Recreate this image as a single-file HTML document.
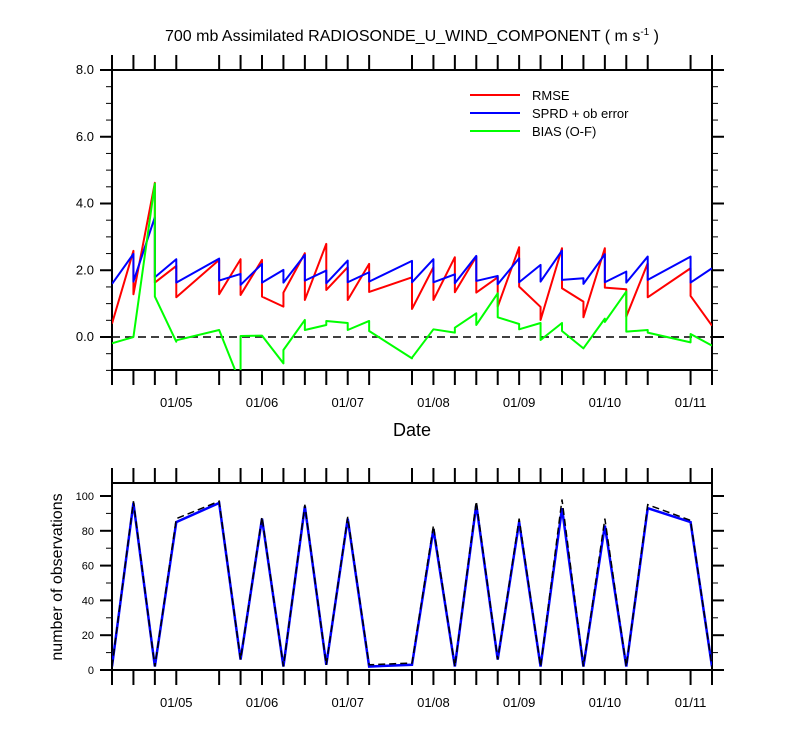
<!DOCTYPE html>
<html><head><meta charset="utf-8"><style>
body{margin:0;background:#fff;}
svg{display:block;font-family:"Liberation Sans",sans-serif;}
</style></head><body>
<svg id="c" width="800" height="750">
<defs>
<clipPath id="clipTop"><rect x="112" y="70" width="600" height="300"/></clipPath>
<clipPath id="clipBot"><rect x="112" y="483" width="600" height="187"/></clipPath>
</defs>
<text x="412" y="41" text-anchor="middle" font-size="16">700 mb Assimilated RADIOSONDE_U_WIND_COMPONENT ( m s<tspan dy="-6" font-size="10">-1</tspan><tspan dy="6"> )</tspan></text>
<g id="top"></g>
<g id="bot"></g>
<text x="412" y="436" text-anchor="middle" font-size="18">Date</text>
<text transform="translate(62,577) rotate(-90)" text-anchor="middle" font-size="16">number of observations</text>
<g>
<line x1="470" y1="95" x2="520" y2="95" stroke="#f00" stroke-width="2"/>
<text x="532" y="100" font-size="13">RMSE</text>
<line x1="470" y1="113" x2="520" y2="113" stroke="#00f" stroke-width="2"/>
<text x="532" y="118" font-size="13">SPRD + ob error</text>
<line x1="470" y1="131" x2="520" y2="131" stroke="#0f0" stroke-width="2"/>
<text x="532" y="136" font-size="13">BIAS (O-F)</text>
</g>
</svg>
<script>
// data times (6-hour slot index from 01/04 06Z)
const slots = [0,1,2,3,5,6,7,8,9,10,11,12,14,15,16,17,18,19,20,21,22,23,24,25,27,28];
const rmseIn  = [0.40,2.58,4.62,2.13,2.31,2.33,2.31,0.91,2.51,2.79,2.09,2.19,1.79,2.09,2.39,2.41,1.79,2.69,0.90,2.66,1.06,2.66,1.43,2.21,2.06,0.34];
const rmseOut = [0.40,1.28,1.63,1.19,1.28,1.26,1.21,1.33,1.11,1.41,1.11,1.35,0.84,1.11,1.34,1.33,0.91,1.51,0.51,1.46,0.59,1.48,0.61,1.19,1.23,0.34];
const sprdIn  = [1.59,2.49,3.59,2.33,2.35,1.89,2.19,2.01,2.46,1.99,2.29,1.94,2.28,2.33,1.88,2.43,1.83,2.36,2.16,2.59,1.76,2.48,1.96,2.41,2.41,2.06];
const sprdOut = [1.59,1.66,1.79,1.63,1.69,1.56,1.63,1.63,1.69,1.61,1.64,1.66,1.64,1.64,1.61,1.68,1.58,1.64,1.66,1.71,1.59,1.64,1.63,1.71,1.63,2.06];
const biasIn  = [-0.19,0.00,4.60,-0.14,0.21,-1.40,0.04,-0.79,0.51,0.36,0.42,0.48,-0.64,0.23,0.13,0.71,1.31,0.39,0.42,0.42,-0.34,0.55,1.36,0.21,-0.16,-0.26];
const biasOut = [-0.19,0.00,1.21,-0.10,0.21,0.03,0.04,-0.39,0.21,0.48,0.21,0.18,-0.62,0.23,0.28,0.36,0.59,0.23,-0.09,0.18,-0.34,0.45,0.16,0.13,0.09,-0.26];
const nobsAssim = [2,96,2,85,96,6,87,2,94,3,87,2,3,81,2,95,6,85,2,93,2,83,2,93,85,2];
const nobsTotal = [2,97,2,87,97,6,88,2,95,3,88,3,4,83,2,97,6,87,2,98,2,87,2,95,86,2];
const dateLabels = ["01/05","01/06","01/07","01/08","01/09","01/10","01/11"];
const dateSlots = [3,7,11,15,19,23,27];
const topTicks = [0,2,4,6,8];
const botTicks = [0,20,40,60,80,100];

const NS="http://www.w3.org/2000/svg";
const svg=document.getElementById('c');
const gT=document.getElementById('top'), gB=document.getElementById('bot');
const X0=112,X1=712,NSLOT=28;
function xs(s){return X0+(X1-X0)*s/NSLOT;}
function yT(v){return 337-v*33.375;}
function yB(v){return 670-v*1.74;}
function mk(tag,attrs,parent){const e=document.createElementNS(NS,tag);for(const k in attrs)e.setAttribute(k,attrs[k]);parent.appendChild(e);return e;}

function axes(g,top,bot,yfun,ticks,minorStep,vmin,vmax,fmt,name){
  const r=mk('rect',{x:X0,y:top,width:X1-X0,height:bot-top,fill:'none',stroke:'#000','stroke-width':2},g);
  
  
  slots.forEach(s=>{
    const x=xs(s);
    const t1=mk('line',{x1:x,y1:top-15,x2:x,y2:top,stroke:'#000','stroke-width':2},g);
    
    
    const t2=mk('line',{x1:x,y1:bot,x2:x,y2:bot+15,stroke:'#000','stroke-width':2},g);
    
    
  });
  for(let v=vmin;v<=vmax+1e-9;v+=minorStep){
    const y=yfun(v); if(y<top-0.5||y>bot+0.5) continue;
    const major=ticks.some(t=>Math.abs(t-v)<1e-6);
    const len=major?12:6;
    const a=mk('line',{x1:X0-len,y1:y,x2:X0,y2:y,stroke:'#000','stroke-width':major?2:1},g);
    
    
    const b=mk('line',{x1:X1,y1:y,x2:X1+len,y2:y,stroke:'#000','stroke-width':major?2:1},g);
    
    
  }
  ticks.forEach(t=>{
    const tx=mk('text',{x:X0-18,y:yfun(t)+4,'text-anchor':'end','font-size':name==='top'?13:11},g);
    tx.textContent=fmt(t);
    
    
  });
  dateLabels.forEach((d,i)=>{
    const tx=mk('text',{x:xs(dateSlots[i]),y:bot+37,'text-anchor':'middle','font-size':13},g);
    tx.textContent=d;
    
    
  });
}
axes(gT,70,370,yT,topTicks,0.5,-1,8,t=>t.toFixed(1),'top');
axes(gB,483,670,yB,botTicks,10,0,100,t=>String(t),'bot');

const zl=mk('line',{x1:X0,y1:yT(0),x2:X1,y2:yT(0),stroke:'#000','stroke-width':1.5,'stroke-dasharray':'8,5'},gT);



function saw(inA,outA,color,name){
  let d='';
  slots.forEach((s,i)=>{
    const x=xs(s);
    d+=(i===0?'M':'L')+x+','+yT(inA[i])+' L'+x+','+yT(outA[i])+' ';
  });
  const p=mk('path',{d:d,fill:'none',stroke:color,'stroke-width':2,'clip-path':'url(#clipTop)','stroke-linejoin':'round'},gT);
  
  
}
saw(rmseIn,rmseOut,'#f00','rmse-line');
saw(sprdIn,sprdOut,'#00f','sprd-line');
saw(biasIn,biasOut,'#0f0','bias-line');

function obsLine(arr,color,dash,w,name){
  const d=slots.map((s,i)=>(i===0?'M':'L')+xs(s)+','+yB(arr[i])).join(' ');
  const p=mk('path',{d:d,fill:'none',stroke:color,'stroke-width':w,'clip-path':'url(#clipBot)'},gB);
  if(dash)p.setAttribute('stroke-dasharray',dash);
  
  
}
obsLine(nobsAssim,'#00f',null,2.5,'assimilated-obs-line');
obsLine(nobsTotal,'#000','7,4',1.5,'total-obs-line');
</script>
</body></html>
